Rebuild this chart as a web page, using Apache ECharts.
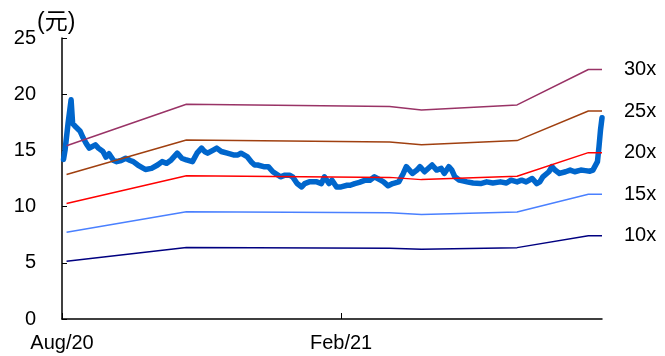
<!DOCTYPE html>
<html>
<head>
<meta charset="utf-8">
<script src="https://cdn.jsdelivr.net/npm/echarts@6/dist/echarts.min.js"></script>
<style>
  html, body { margin: 0; padding: 0; background: #fff; }
  #chart { width: 665px; height: 356px; }
</style>
</head>
<body>
<div id="chart"></div>
<script>
// x轴: 距 2020-08-01 的天数
var xTickDays = [0, 184];
var xTickLabels = ["Aug/20", "Feb/21"];

// 股价 (元)
var priceDays = [1, 2, 4, 6, 7, 9, 12, 14, 16, 18, 22, 24, 27, 29, 31, 34, 36, 39, 42, 45,
  47, 50, 55, 59, 63, 66, 69, 72, 76, 79, 82, 86, 89, 92, 94, 96, 100, 102, 105, 109,
  113, 116, 118, 122, 125, 127, 129, 133, 136, 139, 144, 147, 150, 152, 155, 158, 160, 163, 168, 171,
  173, 176, 178, 181, 184, 188, 190, 193, 196, 200, 203, 206, 210, 212, 215, 218, 222, 225, 227, 231,
  234, 236, 239, 244, 247, 250, 252, 255, 257, 259, 262, 267, 271, 276, 280, 284, 289, 293, 296, 300,
  303, 306, 310, 313, 315, 317, 321, 323, 325, 328, 332, 335, 338, 342, 345, 348, 350, 353, 354, 355, 356];
var priceValues = [14.2, 15.0, 17.4, 19.5, 17.4, 17.1, 16.7, 16.1, 15.6, 15.2, 15.5, 15.2, 14.9, 14.4, 14.7, 14.1, 14.0, 14.1, 14.3, 14.1,
  14.0, 13.7, 13.3, 13.4, 13.7, 14.0, 13.85, 14.15, 14.75, 14.3, 14.15, 14.0, 14.75, 15.2, 14.9, 14.75, 15.05, 15.2, 14.9, 14.75,
  14.6, 14.6, 14.75, 14.45, 13.95, 13.7, 13.7, 13.55, 13.55, 13.1, 12.65, 12.8, 12.8, 12.65, 12.05, 11.75, 12.05, 12.2, 12.2, 12.05,
  12.65, 12.05, 12.35, 11.75, 11.75, 11.9, 11.9, 12.05, 12.15, 12.35, 12.35, 12.65, 12.35, 12.2, 11.85, 12.05, 12.2, 12.95, 13.55, 12.95,
  13.25, 13.55, 13.1, 13.7, 13.25, 13.4, 12.95, 13.55, 13.25, 12.65, 12.35, 12.2, 12.1, 12.05, 12.2, 12.1, 12.2, 12.1, 12.35, 12.2,
  12.35, 12.2, 12.5, 12.05, 12.2, 12.65, 13.1, 13.55, 13.25, 12.95, 13.1, 13.25, 13.1, 13.25, 13.2, 13.15, 13.25, 14.0, 15.3, 16.8, 17.9];

// PE 通道
var bandDays = [3, 82, 216, 237, 300, 347, 356];
var band10 = [5.14, 6.37, 6.30, 6.20, 6.35, 7.40, 7.40];
var band15 = [7.71, 9.55, 9.45, 9.30, 9.52, 11.10, 11.10];
var band20 = [10.28, 12.74, 12.60, 12.40, 12.70, 14.80, 14.80];
var band25 = [12.85, 15.92, 15.75, 15.50, 15.87, 18.50, 18.50];
var band30 = [15.42, 19.11, 18.90, 18.60, 19.05, 22.20, 22.20];

var bandNames = ["10x", "15x", "20x", "25x", "30x"];
var bandColors = ["#000080", "#4a80ff", "#ff0000", "#a04010", "#993366"];

var fontFamily = "'Liberation Sans', Arial, 'Noto Sans CJK SC', sans-serif";

function zip(xs, ys) {
  return xs.map(function (x, i) { return [x, ys[i]]; });
}

var chart = echarts.init(document.getElementById("chart"));

var series = [{
  name: "股价",
  type: "line",
  data: zip(priceDays, priceValues),
  showSymbol: false,
  lineStyle: { color: "#0066cc", width: 5.5, cap: "round", join: "round" },
  z: 2
}];

[band10, band15, band20, band25, band30].forEach(function (vals, i) {
  series.push({
    name: bandNames[i],
    type: "line",
    data: zip(bandDays, vals),
    showSymbol: false,
    lineStyle: { color: bandColors[i], width: 1.5 },
    endLabel: {
      show: true,
      formatter: bandNames[i],
      distance: 22,
      color: "#000",
      fontSize: 20,
      fontFamily: fontFamily
    },
    z: 3
  });
});

var option = {
  animation: false,
  backgroundColor: "#fff",
  title: {
    text: "(元)",
    left: 37,
    top: 11,
    padding: 0,
    textStyle: { fontSize: 23, fontWeight: "normal", color: "#000", fontFamily: fontFamily }
  },
  grid: { left: 62, right: 63, top: 38, bottom: 37, containLabel: false },
  xAxis: {
    type: "value",
    min: 0,
    max: 356,
    interval: 184,
    splitLine: { show: false },
    axisLine: { lineStyle: { color: "#000", width: 1.5 } },
    axisTick: { inside: true, length: 6, customValues: xTickDays, lineStyle: { color: "#000" } },
    axisLabel: {
      customValues: xTickDays,
      margin: 14,
      fontSize: 20,
      color: "#000",
      fontFamily: fontFamily,
      formatter: function (v) {
        var i = xTickDays.indexOf(v);
        return i >= 0 ? xTickLabels[i] : "";
      }
    }
  },
  yAxis: {
    type: "value",
    min: 0,
    max: 25,
    interval: 5,
    splitLine: { show: false },
    axisLine: { show: true, lineStyle: { color: "#000", width: 1.5 } },
    axisTick: { show: true, inside: true, length: 5, lineStyle: { color: "#000" } },
    axisLabel: { margin: 26, fontSize: 20, color: "#000", fontFamily: fontFamily }
  },
  series: series
};

chart.setOption(option);
</script>
</body>
</html>
